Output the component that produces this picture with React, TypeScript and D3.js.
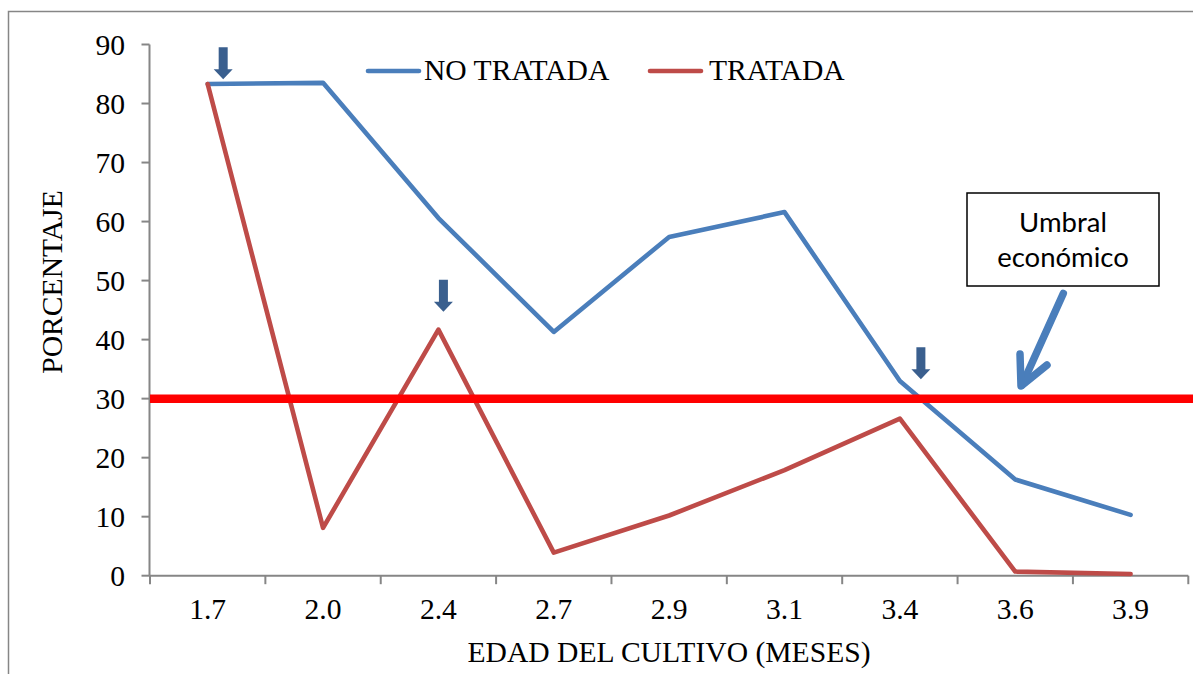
import React from "react";
import * as d3 from "d3";

const categories = ["1.7", "2.0", "2.4", "2.7", "2.9", "3.1", "3.4", "3.6", "3.9"];
const noTratada = [83.3, 83.5, 60.6, 41.3, 57.4, 61.6, 33.0, 16.3, 10.3];
const tratada = [83.3, 8.1, 41.7, 3.9, 10.2, 17.9, 26.6, 0.7, 0.3];
const yTicks = [0, 10, 20, 30, 40, 50, 60, 70, 80, 90];
const threshold = 30;
const seriesNames = ["NO TRATADA", "TRATADA"];
const xTitle = "EDAD DEL CULTIVO (MESES)";
const yTitle = "PORCENTAJE";
const boxLines = ["Umbral", "económico"];
// small marker arrows: category, horizontal offset (px), tip value
const markerArrows = [
  { cat: "1.7", dx: 15.5, tip: 84.1 },
  { cat: "2.4", dx: 5, tip: 44.7 },
  { cat: "3.4", dx: 21, tip: 33.3 },
];

const W = 1193;
const H = 674;
const BLUE = "#4A7EBB";
const RED = "#BE4B48";
const AXIS = "#868686";
const SERIF = "'Liberation Serif', 'Times New Roman', serif";
const FS = 29.6;

export default function App() {
  const x = d3.scaleBand<string>().domain(categories).range([150, 1188.3]).padding(0);
  const y = d3.scaleLinear().domain([0, 90]).range([575.7, 44.5]);
  const cx = (c: string) => (x(c) as number) + x.bandwidth() / 2;

  const line = d3
    .line<number>()
    .x((_, i) => cx(categories[i]))
    .y((v) => y(v));

  const boundaries = categories.map((c) => x(c) as number).concat([1188.3]);

  const arrowPath = (ax: number, tipY: number) => {
    const len = 32;
    const head = 10;
    const sw = 4.5;
    const hw = 9.5;
    const top = tipY - len;
    const hs = tipY - head;
    return `M${ax - sw},${top} L${ax + sw},${top} L${ax + sw},${hs} L${ax + hw},${hs} L${ax},${tipY} L${ax - hw},${hs} L${ax - sw},${hs} Z`;
  };

  return (
    <svg
      width={W}
      height={H}
      style={{ position: "absolute", left: 0, top: 0, background: "#fff" }}
    >
      {/* outer frame */}
      <rect x={8.5} y={11.5} width={W + 20} height={H + 20} fill="none" stroke={AXIS} strokeWidth={1.5} />

      {/* y axis */}
      <line x1={149.5} x2={149.5} y1={y(90)} y2={y(0)} stroke={AXIS} strokeWidth={2} />
      {yTicks.map((t) => (
        <g key={t}>
          <line x1={141.5} x2={149.5} y1={y(t)} y2={y(t)} stroke={AXIS} strokeWidth={2} />
          <text x={125} y={y(t) + 10.5} textAnchor="end" fontFamily={SERIF} fontSize={FS} fill="#000">
            {t}
          </text>
        </g>
      ))}

      {/* x axis */}
      <line x1={149.5} x2={1188.3} y1={y(0)} y2={y(0)} stroke={AXIS} strokeWidth={2} />
      {boundaries.map((b, i) => (
        <line key={i} x1={b} x2={b} y1={y(0)} y2={y(0) + 8.5} stroke={AXIS} strokeWidth={2} />
      ))}
      {categories.map((c) => (
        <text key={c} x={cx(c)} y={619.3} textAnchor="middle" fontFamily={SERIF} fontSize={FS} fill="#000">
          {c}
        </text>
      ))}

      {/* axis titles */}
      <text x={669} y={662} textAnchor="middle" fontFamily={SERIF} fontSize={FS} fill="#000">
        {xTitle}
      </text>
      <text
        transform={`translate(61.5,282) rotate(-90)`}
        textAnchor="middle"
        fontFamily={SERIF}
        fontSize={FS}
        fill="#000"
      >
        {yTitle}
      </text>

      {/* series */}
      <path d={line(noTratada) || ""} fill="none" stroke={BLUE} strokeWidth={4.6} strokeLinejoin="round" strokeLinecap="round" />
      <path d={line(tratada) || ""} fill="none" stroke={RED} strokeWidth={4.6} strokeLinejoin="round" strokeLinecap="round" />

      {/* threshold line */}
      <line x1={150} x2={W} y1={y(threshold)} y2={y(threshold)} stroke="#FF0000" strokeWidth={8.5} />

      {/* marker arrows */}
      {markerArrows.map((a) => (
        <path key={a.cat} d={arrowPath(cx(a.cat) + a.dx, y(a.tip))} fill="#3A5F8E" />
      ))}

      {/* legend */}
      <line x1={368} x2={419} y1={71} y2={71} stroke={BLUE} strokeWidth={4.6} strokeLinecap="round" />
      <text x={424} y={80} fontFamily={SERIF} fontSize={FS} fill="#000">
        {seriesNames[0]}
      </text>
      <line x1={650} x2={701} y1={71} y2={71} stroke={RED} strokeWidth={4.6} strokeLinecap="round" />
      <text x={709} y={80} fontFamily={SERIF} fontSize={FS} fill="#000">
        {seriesNames[1]}
      </text>

      {/* annotation box */}
      <rect x={967} y={193} width={192} height={93} fill="#fff" stroke="#000" strokeWidth={1.5} />
      <text x={1063} y={232} textAnchor="middle" fontFamily="Lato, 'Noto Sans', sans-serif" fontSize={27.5} fill="#000">
        {boxLines[0]}
      </text>
      <text x={1063} y={267} textAnchor="middle" fontFamily="Lato, 'Noto Sans', sans-serif" fontSize={27.5} fill="#000">
        {boxLines[1]}
      </text>

      {/* big annotation arrow */}
      <g stroke={BLUE} strokeWidth={7.5} strokeLinecap="round" strokeLinejoin="round" fill="none">
        <line x1={1063.3} y1={293.5} x2={1022} y2={385} />
        <polyline points="1020,354 1021,386 1047,365" />
      </g>
    </svg>
  );
}
